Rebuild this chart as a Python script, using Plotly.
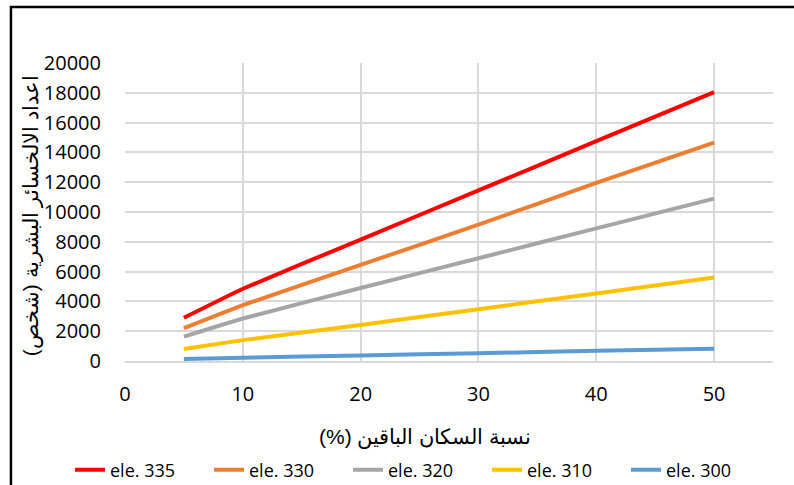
import plotly.graph_objects as go

# Share of remaining population (%)
x_pct = [5, 10, 20, 30, 40, 50]

# Human losses per elevation scenario
series_names = ["ele. 335", "ele. 330", "ele. 320", "ele. 310", "ele. 300"]
ele_335 = [2900, 4850, 8150, 11450, 14750, 18050]
ele_330 = [2200, 3750, 6450, 9150, 11950, 14650]
ele_320 = [1630, 2850, 4900, 6900, 8900, 10900]
ele_310 = [800, 1400, 2420, 3480, 4530, 5600]
ele_300 = [140, 220, 370, 520, 680, 830]

series_values = [ele_335, ele_330, ele_320, ele_310, ele_300]
colors = ["#FF0000", "#ED7D31", "#A5A5A5", "#FFC000", "#5B9BD5"]
# legend box each series is listed in (split in two so the row fits in one line)
legend_ids = ["legend", "legend", "legend", "legend2", "legend2"]

x_ticks = [0, 10, 20, 30, 40, 50]
y_ticks = list(range(0, 20001, 2000))

x_title = "نسبة السكان الباقين (%)"
y_title = "اعداد الالخسائر البشرية (شخص)"

# right-to-left embedding so the Arabic titles lay out in reading order
RLE, PDF = "\u202B", "\u202C"

fig = go.Figure()
for name, vals, col, lg in zip(series_names, series_values, colors, legend_ids):
    fig.add_trace(go.Scatter(
        x=x_pct, y=vals, name=name, mode="lines", legend=lg,
        line=dict(color=col, width=4, shape="spline", smoothing=0.3),
    ))

grid = "#D9D9D9"
fig.update_xaxes(
    range=[0, 55], tickvals=x_ticks, showgrid=True, gridcolor=grid, gridwidth=1.5,
    showline=True, linecolor=grid, linewidth=1.5, zeroline=False,
    ticks="", ticklabelstandoff=14, automargin=False,
    tickfont=dict(family="Open Sans", size=20, color="#000000"),
)
fig.update_yaxes(
    range=[0, 20000], tickvals=y_ticks, tickformat="d",
    showgrid=True, gridcolor=grid, gridwidth=1.5,
    showline=False, zeroline=False, ticks="", ticklabelstandoff=23, automargin=False,
    tickfont=dict(family="Open Sans", size=20, color="#000000"),
)

legend_style = dict(
    orientation="h", xref="container", yref="container",
    xanchor="left", y=15 / 485, yanchor="middle",
    font=dict(family="Open Sans", size=18, color="#000000"),
    entrywidth=94, entrywidthmode="pixels",
    itemwidth=30, tracegroupgap=0, bgcolor="rgba(0,0,0,0)",
)

fig.update_layout(
    width=794, height=485,
    margin=dict(l=125, r=21, t=63, b=124, autoexpand=False),
    paper_bgcolor="white", plot_bgcolor="white",
    showlegend=True,
    legend=dict(legend_style, x=70 / 794),
    legend2=dict(legend_style, x=487 / 794),
    annotations=[
        dict(text=RLE + x_title + PDF, xref="paper", yref="paper", x=0.463, y=-0.258,
             xanchor="center", yanchor="middle", showarrow=False,
             font=dict(family="Liberation Sans", size=21, color="#000000")),
        dict(text=RLE + y_title + PDF, xref="paper", yref="paper", x=-0.143, y=0.49,
             xanchor="center", yanchor="middle", showarrow=False, textangle=-90,
             font=dict(family="Liberation Sans", size=21, color="#000000")),
    ],
    shapes=[
        dict(type="rect", xref="paper", yref="paper",
             x0=-0.176, x1=1.2, y0=-0.6, y1=1.188,
             line=dict(color="#000000", width=2.5), fillcolor="rgba(0,0,0,0)",
             layer="above"),
    ],
)

fig.write_html("out.html")
